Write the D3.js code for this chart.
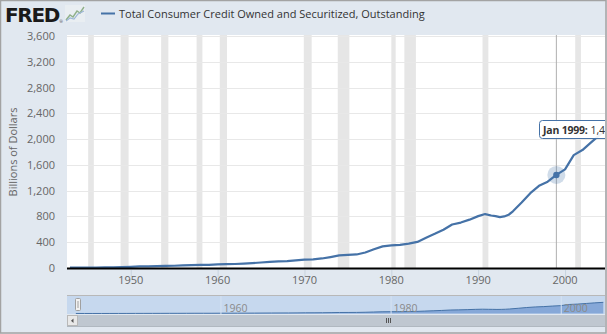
<!DOCTYPE html>
<html><head><meta charset="utf-8">
<script src="https://cdn.jsdelivr.net/npm/d3@7"></script>
<style>
html,body{margin:0;padding:0;background:#fff;}
svg{display:block;font-family:"Open Sans",Arial,sans-serif;}
</style></head>
<body><svg id="c" width="607" height="334"></svg>
<script>
// ---- data ----
const years = [1943,1944,1945,1946,1947,1948,1949,1950,1951,1952,1953,1954,1955,1956,1957,1958,1959,
  1960,1961,1962,1963,1964,1965,1966,1967,1968,1969,1970,1971,1972,1973,1974,1975,1976,1977,1978,1979,
  1980,1981,1982,1983,1984,1985,1986,1987,1988,1989,1990,1990.8,1991.5,1992,1992.5,1993,1993.5,1994,1995,1996,1997,1998,
  1999,2000,2001,2002,2003,2004,2005];
const values = [7,5,5,6,9,12,15,19,24,25,30,34,35,42,46,48,48,
  55,60,62,68,76,85,95,102,106,118,131,135,148,170,195,203,210,240,290,335,
  352,358,378,405,470,530,594,675,705,750,805,837,815,805,790,800,826,880,1016,1161,1275,1340,
  1444,1530,1752,1830,1950,2065,2170];
const recessionStart = [1945.1,1948.83,1953.5,1957.58,1960.25,1969.92,1973.83,1980.0,1981.5,1990.5,2001.17];
const recessionEnd   = [1945.75,1949.75,1954.33,1958.25,1961.08,1970.83,1975.17,1980.5,1982.83,1991.17,2001.83];
const yTicks = [0,400,800,1200,1600,2000,2400,2800,3200,3600];
const xTicks = [1950,1960,1970,1980,1990,2000];
const navTicks = [1960,1980,2000];
const seriesName = "Total Consumer Credit Owned and Securitized, Outstanding";
const yTitle = "Billions of Dollars";
const hoverYear = 1999, hoverLabel = "Jan 1999:", hoverValue = "1,444";

const svg = d3.select("#c");
const W = 607, H = 334;
const L = 67, R = 605, T = 36, B = 268;
const fmt = d3.format(",");

// background
svg.append("rect").attr("x",0).attr("y",0).attr("width",W).attr("height",H).attr("fill","#e1e8f0");

const x = d3.scaleLinear().domain([1942.66, 2004.6]).range([L, R]);
const y = d3.scaleLinear().domain([0, 3600]).range([B, T]);

const defs = svg.append("defs");
defs.append("clipPath").attr("id","pc").append("rect").attr("x",L).attr("y",T-12).attr("width",R-L).attr("height",B-T+12);
defs.append("clipPath").attr("id","nc").append("rect").attr("x",L).attr("y",290).attr("width",R-L).attr("height",40);

// plot area
svg.append("rect").attr("x",L).attr("y",T-1).attr("width",R-L).attr("height",B-T+1).attr("fill","#fff");

const plot = svg.append("g").attr("clip-path","url(#pc)");
// recession bars
plot.selectAll("rect.rec").data(recessionStart).enter().append("rect")
  .attr("x",(d)=>x(d)).attr("y",T-1)
  .attr("width",(d,i)=>Math.max(3, x(recessionEnd[i])-x(d))).attr("height",B-T+1)
  .attr("fill","#e6e6e6");
// grid
plot.selectAll("line.grid").data(yTicks.slice(1)).enter().append("line")
  .attr("x1",L).attr("x2",R).attr("y1",d=>Math.round(y(d))+0.5).attr("y2",d=>Math.round(y(d))+0.5)
  .attr("stroke","#e8e8e8").attr("stroke-width",1);

// crosshair
plot.append("line").attr("x1",x(hoverYear)).attr("x2",x(hoverYear)).attr("y1",T-1).attr("y2",B)
  .attr("stroke","#b0b0b0").attr("stroke-width",1);

// line
const line = d3.line().x((d,i)=>x(years[i])).y(d=>y(d));
plot.append("path").datum(values).attr("d",line).attr("fill","none")
  .attr("stroke","#4572a7").attr("stroke-width",2.2).attr("stroke-linejoin","round");

// hover marker
const hi = years.indexOf(hoverYear);
plot.append("circle").attr("cx",x(hoverYear)).attr("cy",y(values[hi])).attr("r",9)
  .attr("fill","#4572a7").attr("opacity",0.25);
plot.append("circle").attr("cx",x(hoverYear)).attr("cy",y(values[hi])).attr("r",3.2)
  .attr("fill","#4572a7");

// y axis labels
svg.append("g").selectAll("text").data(yTicks).enter().append("text")
  .attr("x",55).attr("y",d=>y(d)+4).attr("text-anchor","end")
  .attr("font-size",11).attr("fill","#666").text(d=>fmt(d));
svg.append("text").attr("transform",`translate(17,${(T+B)/2}) rotate(-90)`)
  .attr("text-anchor","middle").attr("font-size",11).attr("fill","#666").text(yTitle);

// x axis
svg.append("line").attr("x1",L).attr("x2",R).attr("y1",B+0.5).attr("y2",B+0.5)
  .attr("stroke","#000").attr("stroke-width",2);
svg.append("g").selectAll("line").data(xTicks).enter().append("line")
  .attr("x1",d=>x(d)+0.5).attr("x2",d=>x(d)+0.5).attr("y1",B+2).attr("y2",B+9)
  .attr("stroke","#c8d3de");
svg.append("g").selectAll("text").data(xTicks).enter().append("text")
  .attr("x",d=>x(d)).attr("y",284).attr("text-anchor","middle")
  .attr("font-size",11).attr("fill","#666").text(d=>d);

// tooltip
const tipG = svg.append("g").attr("clip-path","url(#pc)");
tipG.append("rect").attr("x",539.5).attr("y",120.5).attr("width",110).attr("height",18).attr("rx",3)
  .attr("fill","#fff").attr("fill-opacity",0.92).attr("stroke","#4572a7").attr("stroke-width",1);
const tt = tipG.append("text").attr("x",543).attr("y",133.5).attr("font-size",10.5).attr("fill","#333");
tt.append("tspan").attr("font-weight","bold").attr("letter-spacing",-0.2).text(hoverLabel);
tt.append("tspan").text(" " + hoverValue);

// navigator
const nx = d3.scaleLinear().domain([1941.96, 2005.2]).range([L, R]);
const ny = d3.scaleLinear().domain([0, 3400]).range([313.5, 296]);
svg.append("rect").attr("x",L).attr("y",296).attr("width",R-L).attr("height",18).attr("fill","#c6d8ee");
const nav = svg.append("g").attr("clip-path","url(#nc)");
nav.append("path").datum(values)
  .attr("d", d3.area().x((d,i)=>nx(years[i])).y0(313.5).y1(d=>ny(d)))
  .attr("fill","#86a8d8");
nav.append("path").datum(values)
  .attr("d", d3.line().x((d,i)=>nx(years[i])).y(d=>ny(d)))
  .attr("fill","none").attr("stroke","#4572a7").attr("stroke-width",1);
nav.selectAll("line.nt").data(navTicks).enter().append("line")
  .attr("x1",d=>nx(d)+0.5).attr("x2",d=>nx(d)+0.5).attr("y1",296).attr("y2",314)
  .attr("stroke","#d5e2f2").attr("stroke-width",1);
nav.selectAll("text").data(navTicks).enter().append("text")
  .attr("x",d=>nx(d)+3).attr("y",311.5).attr("font-size",10.5).attr("fill","#8a8a8a").text(d=>d);
svg.append("line").attr("x1",L).attr("x2",R).attr("y1",295.5).attr("y2",295.5).attr("stroke","#b8b8b8");
// handle
svg.append("rect").attr("x",75.5).attr("y",298.5).attr("width",5).attr("height",12).attr("rx",1)
  .attr("fill","#f2f2f2").attr("stroke","#a0a0a0");
svg.append("line").attr("x1",78).attr("x2",78).attr("y1",301).attr("y2",308).attr("stroke","#a0a0a0");

// scrollbar
svg.append("rect").attr("x",L).attr("y",315).attr("width",R-L).attr("height",11).attr("fill","#bfc7d0");
svg.append("rect").attr("x",L+0.5).attr("y",315.5).attr("width",10).attr("height",10).attr("fill","#e8e8e8").attr("stroke","#b8b8b8");
svg.append("path").attr("d",`M${L+6.5},318.5 L${L+6.5},323 L${L+4},320.7 Z`).attr("fill","#555");
svg.append("line").attr("x1",L).attr("x2",R).attr("y1",326.5).attr("y2",326.5).attr("stroke","#b0b8c0");
[-2,0,2].forEach(o=>svg.append("line").attr("x1",388+o+0.5).attr("x2",388+o+0.5).attr("y1",318).attr("y2",323).attr("stroke","#555"));

// header: FRED logo
svg.append("text").attr("x",5).attr("y",22).attr("font-family","'DejaVu Sans','Liberation Sans',Arial,sans-serif")
  .attr("font-weight","bold").attr("font-size",20).attr("letter-spacing",-1.3).attr("fill","#1a1a1a").text("FRED");
const ig = svg.append("g");
ig.append("rect").attr("x",65).attr("y",5).attr("width",20).attr("height",17).attr("fill","#eef1f4").attr("opacity",0.6);
ig.append("path").attr("d","M66,20 L70,15 L73,17 L77,11 L80,13 L84,7").attr("fill","none").attr("stroke","#8fb08a").attr("stroke-width",1.4);
ig.append("path").attr("d","M66,21 L70,18 L74,19 L78,14 L84,11").attr("fill","none").attr("stroke","#9db7d6").attr("stroke-width",1.2);
svg.append("text").attr("x",59.5).attr("y",23).attr("font-size",4).attr("fill","#333").text("®");

// legend
svg.append("line").attr("x1",101).attr("x2",115).attr("y1",13.5).attr("y2",13.5).attr("stroke","#4572a7").attr("stroke-width",2);
svg.append("text").attr("x",119).attr("y",17.5).attr("font-size",11).attr("fill","#333").text(seriesName);

// frame
svg.append("rect").attr("x",0.5).attr("y",0.5).attr("width",W-1.5).attr("height",H-1.5)
  .attr("fill","none").attr("stroke","#a3a3a3").attr("stroke-width",1.5);
</script></body></html>
